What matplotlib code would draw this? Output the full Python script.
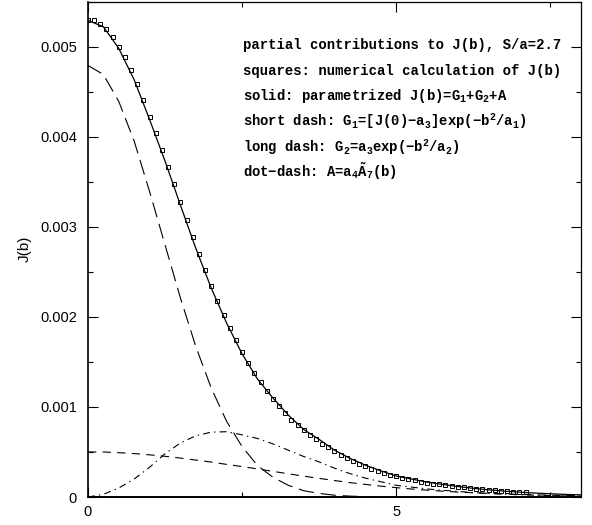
import numpy as np
import matplotlib
matplotlib.use('Agg')
import matplotlib.pyplot as plt
from matplotlib.ticker import MultipleLocator, FuncFormatter

# b grid for the curves (step 0.25) and for the numerical squares (step 0.1)
b = np.linspace(0, 8, 33)
b_sq = np.round(np.arange(0, 7.15, 0.1), 2)

# solid: parametrized J(b)
solid = [0.00529, 0.00522, 0.00498, 0.00463, 0.00419, 0.00373, 0.00324, 0.00276,
         0.00232, 0.00193, 0.00159, 0.00131, 0.00110, 0.00091, 0.00075, 0.00064,
         0.00052, 0.00043, 0.000354, 0.000291, 0.000234, 0.000199, 0.000166, 0.00014,
         0.000117, 0.000097, 0.00008, 0.000066, 0.000054, 0.000044, 0.000036, 0.000029,
         0.000024]
# long dash (big gaussian)
long_dash = [0.00479, 0.00469, 0.00439, 0.00395, 0.00339, 0.00280, 0.00221, 0.00167,
             0.00121, 0.00084, 0.00056, 0.00035, 0.00022, 0.00013, 0.00007, 0.00004,
             0.00002, 0.00001, 0.000004, 0, 0, 0, 0, 0,
             0, 0, 0, 0, 0, 0, 0, 0, 0]
# short dash (wide gaussian)
short_dash = [0.00050, 0.000500, 0.000492, 0.000482, 0.000468, 0.000452, 0.000432, 0.000410,
              0.000388, 0.000362, 0.000338, 0.000312, 0.000285, 0.000258, 0.000232, 0.000207,
              0.000183, 0.00016, 0.00014, 0.000121, 0.000104, 0.000089, 0.000076, 0.000065,
              0.000055, 0.000047, 0.00004, 0.000034, 0.000029, 0.000024, 0.00002, 0.000017,
              0.000014]
# dot-dash
dot_dash = [0, 0.00003, 0.0001, 0.0002, 0.00033, 0.00048, 0.0006, 0.00068,
            0.00072, 0.000725, 0.00069, 0.00065, 0.00059, 0.00052, 0.00045, 0.00039,
            0.00032, 0.00026, 0.00021, 0.00017, 0.00013, 0.00011, 0.00009, 0.000075,
            0.000062, 0.00005, 0.00004, 0.000032, 0.000025, 0.00002, 0.000016, 0.000012,
            0.00001]
# squares: numerical J(b)
squares = [0.00530, 0.00529, 0.00525, 0.00519, 0.00511, 0.00500, 0.00488, 0.00474, 0.00458, 0.00441,
           0.00422, 0.00404, 0.00385, 0.00366, 0.00347, 0.00327, 0.00308, 0.00289, 0.00270, 0.00252,
           0.00234, 0.00218, 0.00202, 0.00188, 0.00174, 0.00161, 0.00149, 0.00138, 0.00128, 0.00118,
           0.00109, 0.00101, 0.00093, 0.00086, 0.00080, 0.00074, 0.00069, 0.00064, 0.00059, 0.00055,
           0.00051, 0.00047, 0.000435, 0.0004, 0.00037, 0.00034, 0.000315, 0.00029, 0.000268, 0.000248,
           0.00023, 0.000214, 0.000199, 0.000185, 0.000172, 0.00016, 0.00015, 0.00014, 0.000131, 0.000122,
           0.000114, 0.000106, 0.000099, 0.000092, 0.000086, 0.00008, 0.000075, 0.00007, 0.000065, 0.00006,
           0.000056, 0.000052]

notes = [
    'partial contributions to J(b), S/a=2.7',
    'squares: numerical calculation of J(b)',
    'solid: parametrized J(b)=G$_1$+G$_2$+A',
    'short dash: G$_1$=[J(0)$-$a$_3$]exp($-$b$^2$/a$_1$)',
    'long dash: G$_2$=a$_3$exp($-$b$^2$/a$_2$)',
    'dot$-$dash: A=a$_4\\tilde{\\mathrm{A}}_7$(b)',
]

plt.rcParams['font.family'] = ['Liberation Sans', 'DejaVu Sans']
plt.rcParams['lines.scale_dashes'] = False
plt.rcParams['mathtext.fontset'] = 'custom'
plt.rcParams['mathtext.rm'] = 'Liberation Mono:bold'
plt.rcParams['mathtext.it'] = 'Liberation Mono:bold'
plt.rcParams['mathtext.bf'] = 'Liberation Mono:bold'

fig = plt.figure(figsize=(5.92, 5.25), dpi=100)
ax = fig.add_axes([0.1486, 0.0533, 0.8328, 0.9438])

ax.plot(b, solid, color='k', lw=0.9)
ax.plot(b, long_dash, color='k', lw=0.8, dashes=(11, 5))
ax.plot(b, short_dash, color='k', lw=0.8, dashes=(6, 4.5))
ax.plot(b, dot_dash, color='k', lw=0.8, dashes=(5, 3, 1, 3))
ax.plot(b_sq, squares, 's', ms=3.0, mfc='none', mec='k', mew=0.7)

ax.set_xlim(0, 8)
ax.set_ylim(0, 0.0055)
ax.xaxis.set_major_locator(MultipleLocator(5))
ax.xaxis.set_minor_locator(MultipleLocator(2.5))
ax.yaxis.set_major_locator(MultipleLocator(0.001))
ax.yaxis.set_minor_locator(MultipleLocator(0.0005))
ax.yaxis.set_major_formatter(FuncFormatter(lambda v, p: '0' if abs(v) < 1e-12 else f'{v:.3f}'))

ax.tick_params(which='both', direction='in', top=True, right=True, width=0.8)
ax.tick_params(which='major', length=7, labelsize=10.5)
ax.tick_params(which='minor', length=3.5)
ax.tick_params(axis='y', pad=8)
ax.tick_params(axis='x', pad=6)
ax.spines['top'].set_linewidth(0.9)
ax.spines['right'].set_linewidth(0.9)
ax.spines['left'].set_linewidth(1.2)
ax.spines['bottom'].set_linewidth(1.4)

ax.set_ylabel('J(b)', fontsize=11)
ax.yaxis.set_label_coords(-0.114, 0.5)

for i, t in enumerate(notes):
    ax.text(0.314, 0.9035 - i * 0.0516, t, transform=ax.transAxes,
            family='Liberation Mono', fontweight='bold', fontsize=10,
            va='baseline', ha='left')

fig.savefig('out.png', dpi=100)
